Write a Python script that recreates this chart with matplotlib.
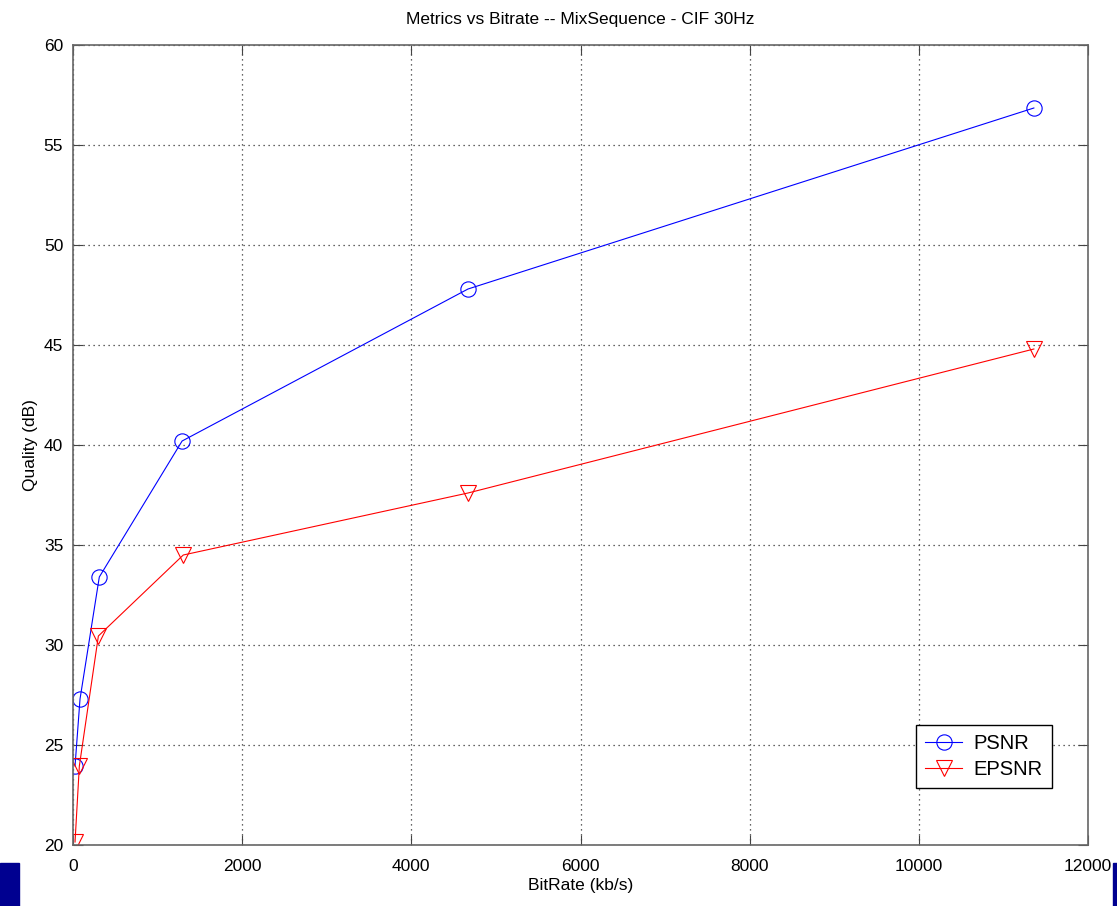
import numpy as np
import matplotlib
matplotlib.use("Agg")
import matplotlib.pyplot as plt
from matplotlib.patches import Rectangle

plt.rcParams['font.family'] = ['Liberation Sans', 'DejaVu Sans']

# ── Data ─────────────────────────────────────────────────────────────────────
bitrate_psnr = [24, 83, 311, 1290, 4670, 11360]
psnr = [23.95, 27.3, 33.4, 40.2, 47.8, 56.85]

bitrate_epsnr = [24, 75, 300, 1304, 4670, 11360]
epsnr = [20.15, 23.95, 30.45, 34.5, 37.6, 44.8]

xticks = [0, 2000, 4000, 6000, 8000, 10000, 12000]
yticks = [20, 25, 30, 35, 40, 45, 50, 55, 60]

# ── Figure ───────────────────────────────────────────────────────────────────
fig = plt.figure(figsize=(11.17, 9.06), dpi=100)
ax = fig.add_axes([73/1117, 61/906, 1015/1117, 800/906])

ax.plot(bitrate_psnr, psnr, '-o', color='blue', linewidth=0.8,
        markersize=11, markerfacecolor='none', markeredgewidth=0.8, label='PSNR')
ax.plot(bitrate_epsnr, epsnr, '-v', color='red', linewidth=0.8,
        markersize=11, markerfacecolor='none', markeredgewidth=0.8, label='EPSNR')

ax.set_xlim(0, 12000)
ax.set_ylim(20, 60)
ax.set_xticks(xticks)
ax.set_yticks(yticks)
ax.tick_params(direction='in', length=7, top=True, right=True,
               labelsize=12.5, color='#444444')
ax.tick_params(axis='x', pad=10)
ax.tick_params(axis='y', pad=7)
ax.grid(True, linestyle=(0, (1, 3)), color='#333333', linewidth=0.9)
for s in ax.spines.values():
    s.set_color('#666666')
    s.set_linewidth(1.2)

ax.set_title("Metrics vs Bitrate -- MixSequence - CIF 30Hz", fontsize=12.5, pad=15)
ax.set_xlabel("BitRate (kb/s)", fontsize=12.5, labelpad=3)
ax.set_ylabel("Quality (dB)", fontsize=12.5, labelpad=4)

leg = ax.legend(loc='lower right', bbox_to_anchor=(0.9645, 0.071), borderaxespad=0,
                fontsize=14.5, fancybox=False, framealpha=1, edgecolor='black',
                handlelength=1.8, handletextpad=0.6, borderpad=0.45,
                labelspacing=0.35)
leg.get_frame().set_linewidth(1.0)

# stray window decorations at the bottom corners
fig.patches.append(Rectangle((0, 0), 19/1117, 43/906, transform=fig.transFigure,
                             color='#000090', zorder=0))
fig.patches.append(Rectangle((1113/1117, 0), 4/1117, 43/906, transform=fig.transFigure,
                             color='#000090', zorder=0))

fig.savefig("out.png", dpi=100)
